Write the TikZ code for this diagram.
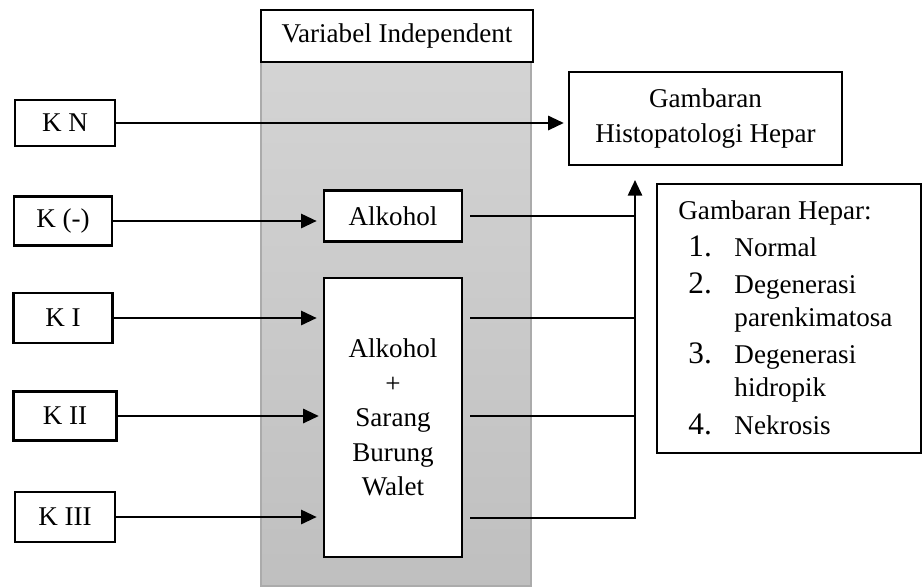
\documentclass[tikz,border=0pt]{standalone}
\usepackage{fontspec}
\setmainfont{Liberation Serif}
\usetikzlibrary{arrows.meta}
\newcommand{\pu}{0.48pt}
\begin{document}
\begin{tikzpicture}[x=0.48pt,y=-0.48pt,
  font=\fontsize{13}{16}\selectfont,
  box/.style={draw,line width=1pt,fill=white,inner sep=0pt,align=center},
  arr/.style={line width=1.1pt,-{Triangle[length=7.5pt,width=6.8pt]}},
  outline/.style={line width=0.8pt}]
\useasboundingbox (0,0) rectangle (923,586);
% independent variable column
\node[draw=black!33,line width=0.8pt,top color=black!17,bottom color=black!25,
  minimum width=270*\pu,minimum height=524*\pu,inner sep=0pt] (band) at (396,324) {};
\node[box,minimum width=272*\pu,minimum height=52*\pu] (var) at (397,36) {Variabel Independent};

% groups
\node[box,minimum width=100*\pu,minimum height=46*\pu] (KN) at (65,123) {K N};
\node[box,minimum width=98*\pu,minimum height=49*\pu] (Kmin) at (63,221) {K (-)};
\node[box,minimum width=99*\pu,minimum height=50*\pu] (KI) at (63,318) {K I};
\node[box,minimum width=103*\pu,minimum height=49*\pu] (KII) at (65,416) {K II};
\node[box,minimum width=100*\pu,minimum height=50*\pu] (KIII) at (65,517) {K III};

% treatments
\node[box,minimum width=138*\pu,minimum height=51*\pu] (alk) at (393,216) {Alkohol};
\node[box,minimum width=138*\pu,minimum height=279*\pu,font=\fontsize{13}{16.5}\selectfont] (sbw) at (393,417.5)
  {Alkohol\\+\\Sarang\\Burung\\Walet};

% outcome
\node[box,minimum width=273*\pu,minimum height=93*\pu,font=\fontsize{13}{17}\selectfont] (histo) at (705.5,118.5)
  {Gambaran\\Histopatologi Hepar};
\node[box,minimum width=264*\pu,minimum height=269*\pu] (hepar) at (789,318.5) {};
\node[anchor=base west,inner sep=0pt] (hlist) at (678,219) {%
  \begin{tabular}[t]{@{}p{26.9pt}@{}l@{}}
  \multicolumn{2}{@{}l@{}}{Gambaran Hepar:}\\[1.8pt]
  \hspace*{4.8pt}{\fontsize{15}{16}\selectfont 1.} & Normal\\[1.8pt]
  \hspace*{4.8pt}{\fontsize{15}{16}\selectfont 2.} & Degenerasi\\
   & parenkimatosa\\[1.8pt]
  \hspace*{4.8pt}{\fontsize{15}{16}\selectfont 3.} & Degenerasi\\
   & hidropik\\[1.8pt]
  \hspace*{4.8pt}{\fontsize{15}{16}\selectfont 4.} & Nekrosis
  \end{tabular}};

\coordinate (bus) at (635,518);
\coordinate (bustop) at (635,180);

% arrows
\draw[arr,shorten >=2pt] (KN.east) -- (KN.east -| histo.west);
\draw[arr,shorten >=3pt] (Kmin.east) -- (Kmin.east -| alk.west);
\draw[arr,shorten >=3pt] (KI.east) -- (KI.east -| sbw.west);
\draw[arr,shorten >=2pt] (KII.east) -- (KII.east -| sbw.west);
\draw[arr,shorten >=3pt] (KIII.east) -- (KIII.east -| sbw.west);

\draw[outline] ([xshift=3.4pt]alk.east) -- (alk.east -| bus);
\draw[outline] ([xshift=3.4pt]sbw.east |- KI.east) -- (KI.east -| bus);
\draw[outline] ([xshift=3.4pt]sbw.east |- KII.east) -- (KII.east -| bus);
\draw[outline] ([xshift=3.4pt]sbw.east |- bus) -- (bus);
\draw[arr] ([yshift=-0.4pt]bus) -- (bustop);
\end{tikzpicture}
\end{document}
